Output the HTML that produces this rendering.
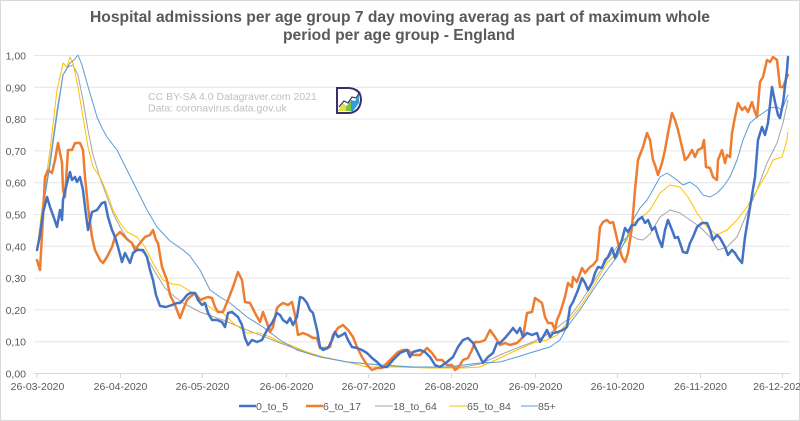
<!DOCTYPE html>
<html><head><meta charset="utf-8"><style>
html,body{margin:0;padding:0;background:#fff;}
svg{display:block;font-family:"Liberation Sans","DejaVu Sans",sans-serif;}
</style></head><body>
<svg width="800" height="421" viewBox="0 0 800 421" xmlns="http://www.w3.org/2000/svg">
<rect x="0.5" y="0.5" width="799" height="420" fill="#fff" stroke="#d9d9d9" stroke-width="1"/>
<text x="400" y="22" text-anchor="middle" font-size="15.5" font-weight="bold" fill="#595959" textLength="620" lengthAdjust="spacingAndGlyphs">Hospital admissions per age group 7 day moving averag as part of maximum whole</text>
<text x="399" y="40" text-anchor="middle" font-size="15.5" font-weight="bold" fill="#595959" textLength="232" lengthAdjust="spacingAndGlyphs">period per age group - England</text>
<g stroke="#e6e6e6" stroke-width="1">
<line x1="34" y1="55.5" x2="790" y2="55.5"/>
<line x1="34" y1="87.3" x2="790" y2="87.3"/>
<line x1="34" y1="119.1" x2="790" y2="119.1"/>
<line x1="34" y1="150.9" x2="790" y2="150.9"/>
<line x1="34" y1="182.7" x2="790" y2="182.7"/>
<line x1="34" y1="214.5" x2="790" y2="214.5"/>
<line x1="34" y1="246.3" x2="790" y2="246.3"/>
<line x1="34" y1="278.1" x2="790" y2="278.1"/>
<line x1="34" y1="309.9" x2="790" y2="309.9"/>
<line x1="34" y1="341.7" x2="790" y2="341.7"/>
</g>
<line x1="34" y1="373.5" x2="790" y2="373.5" stroke="#d9d9d9" stroke-width="1"/>
<g stroke="#d9d9d9" stroke-width="1">
<line x1="37" y1="373" x2="37" y2="378"/><line x1="120.5" y1="373" x2="120.5" y2="378"/><line x1="202.5" y1="373" x2="202.5" y2="378"/><line x1="286.5" y1="373" x2="286.5" y2="378"/><line x1="368.5" y1="373" x2="368.5" y2="378"/><line x1="451.5" y1="373" x2="451.5" y2="378"/><line x1="535.5" y1="373" x2="535.5" y2="378"/><line x1="617.5" y1="373" x2="617.5" y2="378"/><line x1="700.5" y1="373" x2="700.5" y2="378"/><line x1="782.5" y1="373" x2="782.5" y2="378"/>
</g>
<g font-size="10.5" fill="#595959" text-anchor="end">
<text x="26" y="59.5">1,00</text><text x="26" y="91.3">0,90</text><text x="26" y="123.1">0,80</text><text x="26" y="154.9">0,70</text><text x="26" y="186.7">0,60</text><text x="26" y="218.5">0,50</text><text x="26" y="250.3">0,40</text><text x="26" y="282.1">0,30</text><text x="26" y="313.9">0,20</text><text x="26" y="345.7">0,10</text><text x="26" y="377.5">0,00</text>
</g>
<g font-size="10.5" fill="#595959" text-anchor="middle">
<text x="37.5" y="390">26-03-2020</text><text x="120.5" y="390">26-04-2020</text><text x="202.5" y="390">26-05-2020</text><text x="286.5" y="390">26-06-2020</text><text x="368.5" y="390">26-07-2020</text><text x="451.5" y="390">26-08-2020</text><text x="535.5" y="390">26-09-2020</text><text x="617.5" y="390">26-10-2020</text><text x="700.5" y="390">26-11-2020</text><text x="780" y="390">26-12-2020</text>
</g>
<g font-size="10.5" fill="#bfbfbf">
<text x="148" y="100">CC BY-SA 4.0  Datagraver.com 2021</text>
<text x="148" y="111.5">Data: coronavirus.data.gov.uk</text>
</g>
<g>
<polygon points="338,111 343,104 347,106 351,100 355,101 359,95 359,103 353,111" fill="#2e9fd8"/>
<polygon points="338,111 343,104 347,106 351,100 351,111" fill="#7cc242"/>
<polygon points="338,111 343,104 346,105 346,111" fill="#e6e03a"/>
<path d="M337,88 L349,88 Q361,89 361,100 Q360,112 349,113 L337,113 Z" fill="none" stroke="#3b2f6b" stroke-width="2"/>
<polyline points="339,107 344,101 348,103 352,97 356,98 360,92" fill="none" stroke="#3b2f6b" stroke-width="1.2"/>
</g>
<g fill="none" stroke-linejoin="round" stroke-linecap="round">
<polyline stroke="#a5a5a5" stroke-width="1" points="37,250 43,205 50,160 57,110 63,75 68,67 73,65 78,75 83,100 88,130 93,155 100,178 107,197 113,213 120,227 127,238 135,246 145,254 155,272 165,288 175,297 183,303 200,312 223,320 247,330 280,343 313,355 347,362 380,365 413,367 463,367 480,364 500,355 517,348 533,342 550,333 567,320 580,303 593,283 607,260 620,243 630,235 637,239 643,240 650,234 660,217 670,210 680,213 690,220 700,227 710,237 718,250 727,247 737,237 747,213 757,190 767,163 777,143 783,123 788,100"/>
<polyline stroke="#ffc000" stroke-width="1" points="37,250 43,200 50,150 57,90 63,63 67,67 70,57 73,63 78,87 83,117 88,147 93,167 100,177 107,193 113,210 120,223 127,232 137,237 145,247 153,263 163,280 172,284 180,285 193,293 207,305 217,312 223,313 233,323 247,333 260,333 270,337 280,342 290,345 307,352 323,357 347,362 367,367 397,367 430,368 463,368 480,367 500,358 517,350 533,343 547,340 557,335 567,323 580,307 593,287 607,263 617,253 627,240 633,223 640,219 650,210 660,193 670,185 680,187 688,197 697,213 707,227 717,235 727,230 737,220 747,207 757,190 767,173 773,160 782,157 787,140 788,132"/>
<polyline stroke="#5b9bd5" stroke-width="1" points="37,250 43,208 50,165 57,115 63,75 70,63 74,60 78,55 82,65 87,83 92,100 97,117 102,128 107,137 117,150 127,170 137,190 147,210 157,227 170,241 183,250 190,256 200,270 210,290 220,297 230,303 247,317 263,327 280,340 297,350 320,357 347,362 380,365 413,367 447,367 480,363 500,362 517,357 533,352 550,347 560,340 567,327 580,310 593,290 607,270 617,257 627,237 633,220 640,208 647,200 650,195 660,177 667,173 677,180 683,185 690,182 697,187 703,195 710,197 717,193 723,187 730,177 737,160 743,140 750,123 757,117 763,113 770,108 777,107 782,110 787,97 788,95"/>
<polyline stroke="#ed7d31" stroke-width="2.5" points="37,260 40,270 43,217 45,177 48,170 52,173 55,160 58,143 62,163 63,190 65,197 68,150 72,150 75,143 80,143 83,150 85,177 88,207 92,237 95,250 100,260 103,263 107,257 112,247 115,237 120,232 125,237 128,240 132,243 135,250 140,243 145,237 150,235 153,230 156,240 158,243 162,267 167,280 170,295 175,305 180,318 183,310 187,300 190,297 195,293 200,300 205,298 208,297 212,298 215,307 218,312 223,312 228,300 233,287 238,272 242,280 245,302 250,303 255,313 260,322 263,312 267,323 270,332 273,327 277,308 280,305 283,303 288,305 292,302 295,315 298,335 303,333 308,335 313,338 317,338 320,348 325,348 330,347 333,335 338,328 343,325 348,330 353,337 357,347 362,357 367,365 372,370 377,368 382,368 387,363 393,357 398,352 403,350 408,350 413,355 420,355 427,348 432,353 437,360 442,360 447,365 452,365 455,370 458,368 463,360 468,358 472,350 475,342 480,342 485,340 490,330 495,337 500,345 505,343 510,345 517,343 523,337 527,313 532,312 535,298 538,300 542,303 545,317 548,323 552,323 555,330 557,320 560,313 565,297 568,283 572,287 573,277 577,282 582,268 585,273 590,267 593,265 597,260 600,227 603,222 607,220 610,223 613,222 615,230 618,243 622,257 625,262 628,253 632,227 635,190 638,160 643,147 647,133 650,140 653,160 655,165 658,175 662,163 665,150 668,133 672,113 675,120 678,130 682,147 685,160 688,157 692,150 695,157 698,150 702,148 704,140 706,167 710,168 713,177 717,180 718,160 722,150 725,163 727,155 730,157 732,133 735,117 738,103 742,110 745,107 748,112 752,102 755,112 757,117 760,82 763,77 767,60 770,62 773,57 777,60 780,87 783,87 787,77 788,75"/>
<polyline stroke="#4472c4" stroke-width="2.5" points="37,250 40,235 43,213 47,197 50,207 54,218 57,227 60,210 62,220 63,200 67,183 70,172 72,180 75,177 77,182 80,177 83,190 85,207 88,230 92,212 97,210 102,203 105,202 108,217 112,230 115,237 118,247 122,262 125,253 130,263 133,253 137,250 143,250 147,257 150,270 153,280 156,295 160,306 166,307 172,305 177,303 180,303 183,300 187,295 190,293 195,293 198,300 202,305 205,303 208,313 212,320 217,320 222,322 225,327 228,313 232,312 238,317 242,325 245,338 248,345 252,340 257,342 262,340 267,330 272,323 277,313 280,315 283,320 287,323 290,318 293,325 297,317 300,297 303,298 307,303 310,310 313,313 317,330 320,347 323,350 328,348 332,340 335,332 338,337 342,335 345,333 348,340 352,347 357,348 362,350 367,353 372,358 377,362 382,367 387,367 393,360 400,353 407,350 410,357 413,352 420,350 425,352 430,357 435,365 440,367 447,362 453,357 458,347 463,340 468,338 473,343 478,353 483,363 488,357 493,353 497,343 500,343 505,338 510,332 513,328 517,333 520,328 523,337 527,333 532,335 537,333 540,342 543,337 547,330 550,337 553,333 558,332 563,330 567,327 570,307 573,302 578,290 582,278 585,283 588,290 592,283 595,273 598,267 602,268 605,260 608,257 612,248 615,258 618,250 622,240 625,228 628,232 632,225 635,225 638,220 642,217 645,223 648,220 652,230 655,227 658,237 662,247 665,230 668,220 672,230 675,238 678,237 683,252 687,253 690,243 693,237 697,227 702,223 707,223 710,230 713,240 717,235 720,238 725,247 728,255 732,250 735,253 738,258 742,263 745,237 750,207 755,177 758,140 762,127 765,135 768,123 772,87 775,102 778,115 780,118 783,103 787,70 788,57"/>
</g>
<g font-size="10.5" fill="#595959">
<line x1="239" y1="406" x2="256" y2="406" stroke="#4472c4" stroke-width="2.5"/>
<text x="256" y="410">0_to_5</text>
<line x1="306" y1="406" x2="323" y2="406" stroke="#ed7d31" stroke-width="2.5"/>
<text x="323" y="410">6_to_17</text>
<line x1="375" y1="406" x2="393" y2="406" stroke="#a5a5a5" stroke-width="1"/>
<text x="393" y="410">18_to_64</text>
<line x1="449" y1="406" x2="467" y2="406" stroke="#ffc000" stroke-width="1"/>
<text x="467" y="410">65_to_84</text>
<line x1="521" y1="406" x2="538" y2="406" stroke="#5b9bd5" stroke-width="1"/>
<text x="538" y="410">85+</text>
</g>
</svg>
</body></html>
